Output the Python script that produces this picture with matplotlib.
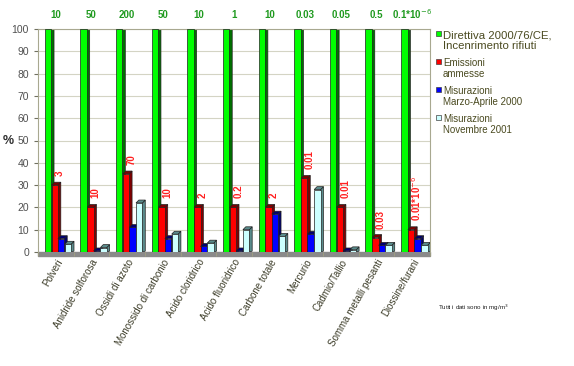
import numpy as np
import matplotlib
matplotlib.use('Agg')
import matplotlib.pyplot as plt
from matplotlib.patches import Rectangle

plt.rcParams['font.family'] = ['Liberation Sans', 'DejaVu Sans']

# data
categories = ['Polveri', 'Anidride solforosa', 'Ossidi di azoto', 'Monossido di carbonio',
              'Acido cloridrico', 'Acido fluoridrico', 'Carbone totale', 'Mercurio',
              'Cadmio/Tallio', 'Somma metalli pesanti', 'Diossine/furani']
direttiva = [100, 100, 100, 100, 100, 100, 100, 100, 100, 100, 100]
emissioni = [30, 20, 35, 20, 20, 20, 20, 33, 20, 6.5, 10]
marzo2000 = [6, 0.5, 11, 6, 2.5, 0.5, 17, 8, 0.5, 3, 6]
nov2001 = [3.5, 2, 22, 8, 4, 10, 7, 28, 1, 3, 3]
limit_labels = ['10', '50', '200', '50', '10', '1', '10', '0.03', '0.05', '0.5', '0.1*10$^{-6}$']
emis_labels = ['3', '10', '70', '10', '2', '0.2', '2', '0.01', '0.01', '0.03', '0.01*10$^{-6}$']
series_names = ['Direttiva 2000/76/CE,\nIncenrimento rifiuti', 'Emissioni\nammesse',
                'Misurazioni\nMarzo-Aprile 2000', 'Misurazioni\nNovembre 2001']

front = ['#00ff00', '#ff0000', '#0000ff', '#ccffff']
side = ['#007000', '#800000', '#000070', '#5a8c8c']
txt_col = '#3c3c28'

fig = plt.figure(figsize=(5.74, 3.66), dpi=100)
ax = fig.add_axes([38/574, 1-252/366, 392/574, 223/366])

x = np.arange(len(categories))
offsets = [-0.31, -0.12, 0.06, 0.25]
w = 0.18
dx, dy = 0.08, 1.3
series = [direttiva, emissioni, marzo2000, nov2001]

for k, vals in enumerate(series):
    for i, v in enumerate(vals):
        left = x[i] + offsets[k]
        # side + top (pseudo 3D)
        ax.fill([left + w, left + w + dx, left + w + dx, left + w],
                [0, dy * 0.3, v + dy, v], color=side[k], lw=0.5, ec='#202020', zorder=2 + k * 2)
        ax.fill([left, left + dx, left + w + dx, left + w],
                [v, v + dy, v + dy, v], color=side[k], lw=0.5, ec='#202020', zorder=2 + k * 2)
    ax.bar(x + offsets[k], vals, width=w, align='edge', color=front[k],
           edgecolor='#202020', linewidth=0.5, zorder=3 + k * 2)

# labels above
for i in range(len(categories)):
    ax.text(x[i], 106.5, limit_labels[i], ha='center', va='center', color='#1f9a1f',
            fontsize=7, fontweight='bold', clip_on=False)
    ax.text(x[i] + offsets[1] + w + 0.06, emissioni[i] + 4, emis_labels[i], rotation=90,
            ha='center', va='bottom', color='#ff2020', fontsize=7, fontweight='bold', zorder=20)

ax.set_xlim(-0.5, 10.5)
ax.set_ylim(0, 100)
ax.set_yticks(np.arange(0, 101, 10))
ax.set_xticks(x)
ax.set_xticklabels(categories, rotation=60, ha='right', rotation_mode='anchor',
                   fontsize=7, color=txt_col)
ax.set_xticks(np.arange(-0.5, 11, 1), minor=True)
ax.tick_params(axis='x', which='major', length=0, pad=4)
ax.tick_params(axis='x', which='minor', length=3, color='#a0a080', direction='out')
ax.tick_params(axis='y', labelsize=7.5, labelcolor='#505050', color='#707060', length=3)
ax.grid(axis='y', color='#d4d4c4', lw=0.8, zorder=0)
for s in ['left', 'top', 'right']:
    ax.spines[s].set_color('#a8a890')
ax.spines['bottom'].set_visible(False)

# floor
ax.add_patch(Rectangle((0, -0.018), 1, 0.018, transform=ax.transAxes, color='#8a8a8a',
                       clip_on=False, zorder=1))

fig.text(3/574, 1-141/366, '%', fontsize=9, fontweight='bold', color='#303030',
         ha='left', va='center')
fig.text(438/574, 1-308/366, 'Tutti i dati sono in mg/m$^3$', fontsize=4.5, color='#202020',
         ha='left', va='center')

# legend
leg_y = [33, 61, 89, 117]
leg_fs = [8.2, 7, 7, 7]
for k in range(4):
    fig.patches.append(Rectangle((436/574, 1-(leg_y[k]+3)/366), 5/574, 5/366,
                                 transform=fig.transFigure, fc=front[k], ec='#404040', lw=0.5))
    fig.text(443/574, 1-(leg_y[k]-3)/366, series_names[k], fontsize=leg_fs[k], color='#4a4a20',
             ha='left', va='top', linespacing=1.1)

fig.savefig('out.png', dpi=100)
